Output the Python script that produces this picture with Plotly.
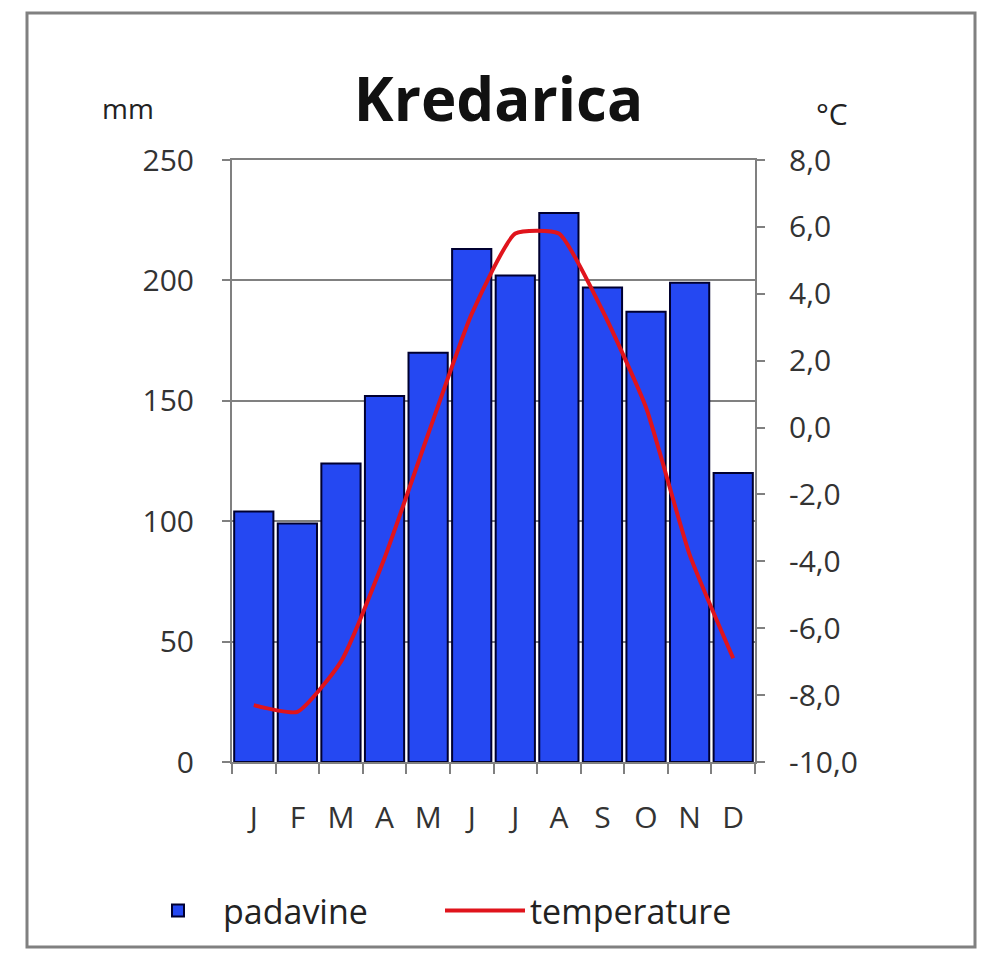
import plotly.graph_objects as go

months = ["J", "F", "M", "A", "M", "J", "J", "A", "S", "O", "N", "D"]
month_pos = list(range(1, 13))
precip_mm = [104, 99, 124, 152, 170, 213, 202, 228, 197, 187, 199, 120]
temp_c = [-8.3, -8.5, -7.0, -3.9, -0.2, 3.4, 5.8, 5.8, 3.5, 0.6, -3.8, -6.9]
temp_ticks = [-10, -8, -6, -4, -2, 0, 2, 4, 6, 8]
temp_ticktext = [f"{v:.1f}".replace(".", ",") for v in temp_ticks]

FONT = "Open Sans"
OFF = 8  # body margin of the page
W, H = 997 - 2 * OFF, 957 - 2 * OFF
L, T = 232 - OFF, 160 - OFF
pw, ph = 523, 602
R = W - L - pw
B = H - T - ph


def px(x):
    # screen x -> paper x
    return (x - OFF - L) / pw


def py(y):
    # screen y -> paper y
    return (T + ph - (y - OFF)) / ph


fig = go.Figure()
fig.add_trace(go.Bar(
    x=month_pos, y=precip_mm, name="padavine",
    marker=dict(color="#2548f2", line=dict(color="#000030", width=2)),
    yaxis="y",
))
fig.add_trace(go.Scatter(
    x=month_pos, y=temp_c, name="temperature", mode="lines",
    line=dict(color="#e0141c", width=4, shape="spline", smoothing=0.5),
    yaxis="y2",
))

fig.update_layout(
    width=W, height=H,
    margin=dict(l=L, r=R, t=T, b=B, autoexpand=False),
    paper_bgcolor="white", plot_bgcolor="white",
    bargap=0.1,
    font=dict(family=FONT, color="#333333", size=30),
    title=dict(text="<b>Kredarica</b>", x=0.5, xref="container",
               y=1 - (100 - OFF) / H, yanchor="middle", xanchor="center",
               font=dict(family=FONT, size=60, color="#111111")),
    xaxis=dict(
        range=[0.5, 12.5], tickvals=month_pos, ticktext=months,
        ticks="", showgrid=False, zeroline=False,
        showline=True, linecolor="#808080", linewidth=2, mirror=True,
        ticklabelstandoff=28,
        tickfont=dict(size=30, color="#333333"),
        minor=dict(tick0=0.5, dtick=1, ticks="outside", ticklen=10,
                   tickcolor="#808080", tickwidth=2, showgrid=False),
    ),
    yaxis=dict(
        range=[0, 250], dtick=50, showgrid=True, gridcolor="#808080", gridwidth=2,
        zeroline=False, showline=True, linecolor="#808080", linewidth=2,
        ticks="outside", ticklen=8, tickcolor="#808080", tickwidth=2,
        ticklabelstandoff=22,
        tickfont=dict(size=30, color="#333333"),
    ),
    yaxis2=dict(
        range=[-10, 8], tickvals=temp_ticks, ticktext=temp_ticktext,
        overlaying="y", side="right",
        showgrid=False, zeroline=False, showline=True, linecolor="#808080", linewidth=2,
        ticks="outside", ticklen=8, tickcolor="#808080", tickwidth=2,
        ticklabelstandoff=18,
        tickfont=dict(size=30, color="#333333"),
    ),
    showlegend=True,
    legend=dict(orientation="h", xref="paper", yref="paper",
                x=px(133), xanchor="left",
                y=py(911), yanchor="middle",
                font=dict(size=34, color="#222222"), itemwidth=80,
                entrywidth=212, entrywidthmode="pixels",
                bgcolor="rgba(0,0,0,0)", traceorder="normal"),
    shapes=[dict(type="rect", xref="paper", yref="paper",
                 x0=px(27), x1=px(975), y0=py(947), y1=py(13),
                 line=dict(color="#808080", width=3), fillcolor="rgba(0,0,0,0)",
                 layer="below")],
    annotations=[
        dict(text="mm", xref="paper", yref="paper", x=px(128), y=py(108),
             showarrow=False, xanchor="center", yanchor="middle",
             font=dict(size=28, color="#222222")),
        dict(text="°C", xref="paper", yref="paper", x=px(832), y=py(113),
             showarrow=False, xanchor="center", yanchor="middle",
             font=dict(size=30, color="#222222")),
    ],
)

fig.write_html("out.html")
